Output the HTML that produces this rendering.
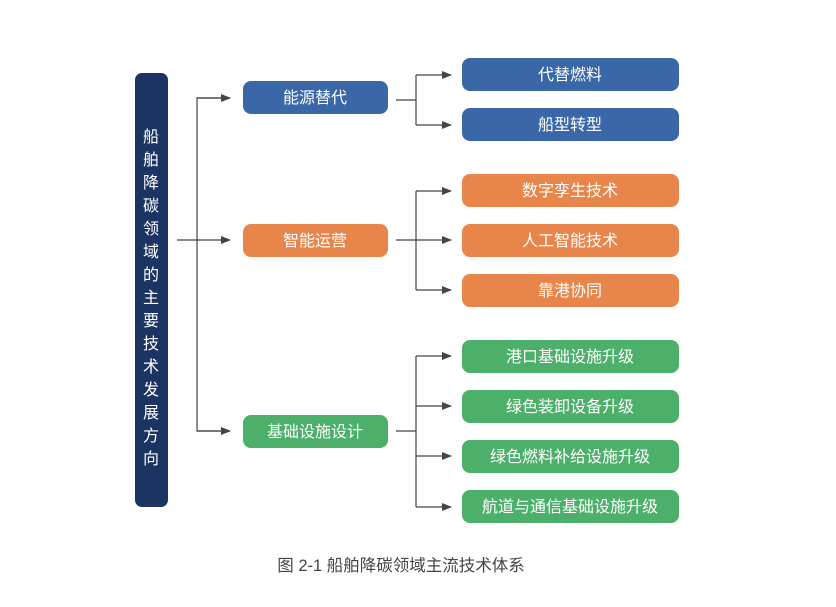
<!DOCTYPE html>
<html><head><meta charset="utf-8"><style>
body{margin:0;background:#fff;}
text{font-family:"Liberation Sans","Noto Sans CJK SC",sans-serif;}
</style></head><body>
<svg width="836" height="602" xmlns="http://www.w3.org/2000/svg">
<defs><marker id="a" markerWidth="10" markerHeight="8" refX="9" refY="4" orient="auto" markerUnits="userSpaceOnUse"><path d="M0,0 L10,4 L0,8 Z" fill="#444"/></marker></defs>
<rect x="135" y="73" width="33" height="434" rx="7" fill="#1c3463"/>
<g fill="#fff" font-size="16" text-anchor="middle">
<text x="151" y="142">船</text><text x="151" y="165">舶</text><text x="151" y="188">降</text><text x="151" y="211">碳</text><text x="151" y="234">领</text><text x="151" y="257">域</text><text x="151" y="280">的</text><text x="151" y="303">主</text><text x="151" y="326">要</text><text x="151" y="349">技</text><text x="151" y="372">术</text><text x="151" y="395">发</text><text x="151" y="418">展</text><text x="151" y="441">方</text><text x="151" y="464">向</text>
</g>
<g stroke="#444" stroke-width="1.2" fill="none">
<line x1="177" y1="240" x2="230" y2="240" marker-end="url(#a)"/>
<polyline points="230,98 197,98 197,431 230,431" />
<line x1="197" y1="98" x2="230" y2="98" marker-end="url(#a)"/>
<line x1="197" y1="431" x2="230" y2="431" marker-end="url(#a)"/>
<line x1="396" y1="100" x2="416" y2="100"/>
<polyline points="416,75 416,125"/>
<line x1="416" y1="75" x2="451" y2="75" marker-end="url(#a)"/>
<line x1="416" y1="125" x2="451" y2="125" marker-end="url(#a)"/>
<line x1="396" y1="240" x2="451" y2="240" marker-end="url(#a)"/>
<polyline points="416,191 416,290"/>
<line x1="416" y1="191" x2="451" y2="191" marker-end="url(#a)"/>
<line x1="416" y1="290" x2="451" y2="290" marker-end="url(#a)"/>
<line x1="396" y1="431" x2="416" y2="431"/>
<polyline points="416,356 416,507"/>
<line x1="416" y1="356" x2="451" y2="356" marker-end="url(#a)"/>
<line x1="416" y1="406" x2="451" y2="406" marker-end="url(#a)"/>
<line x1="416" y1="456" x2="451" y2="456" marker-end="url(#a)"/>
<line x1="416" y1="507" x2="451" y2="507" marker-end="url(#a)"/>
</g>
<rect x="243" y="81" width="145" height="33" rx="8" fill="#3a67a8"/>
<rect x="243" y="224" width="145" height="33" rx="8" fill="#e8854a"/>
<rect x="243" y="415" width="145" height="33" rx="8" fill="#4caf6a"/>
<g fill="#3a67a8"><rect x="462" y="58" width="217" height="33" rx="8"/><rect x="462" y="108" width="217" height="33" rx="8"/></g>
<g fill="#e8854a"><rect x="462" y="174" width="217" height="33" rx="8"/><rect x="462" y="224" width="217" height="33" rx="8"/><rect x="462" y="274" width="217" height="33" rx="8"/></g>
<g fill="#4caf6a"><rect x="462" y="340" width="217" height="33" rx="8"/><rect x="462" y="390" width="217" height="33" rx="8"/><rect x="462" y="440" width="217" height="33" rx="8"/><rect x="462" y="490" width="217" height="33" rx="8"/></g>
<g fill="#fff" font-size="16" text-anchor="middle">
<text x="315" y="103">能源替代</text><text x="315" y="246">智能运营</text><text x="315" y="437">基础设施设计</text>
<text x="570" y="80">代替燃料</text><text x="570" y="130">船型转型</text>
<text x="570" y="196">数字孪生技术</text><text x="570" y="246">人工智能技术</text><text x="570" y="296">靠港协同</text>
<text x="570" y="362">港口基础设施升级</text><text x="570" y="412">绿色装卸设备升级</text><text x="570" y="462">绿色燃料补给设施升级</text><text x="570" y="512">航道与通信基础设施升级</text>
</g>
<text x="401" y="571" font-size="16.5" fill="#444" text-anchor="middle">图 2-1 船舶降碳领域主流技术体系</text>
</svg>
</body></html>
